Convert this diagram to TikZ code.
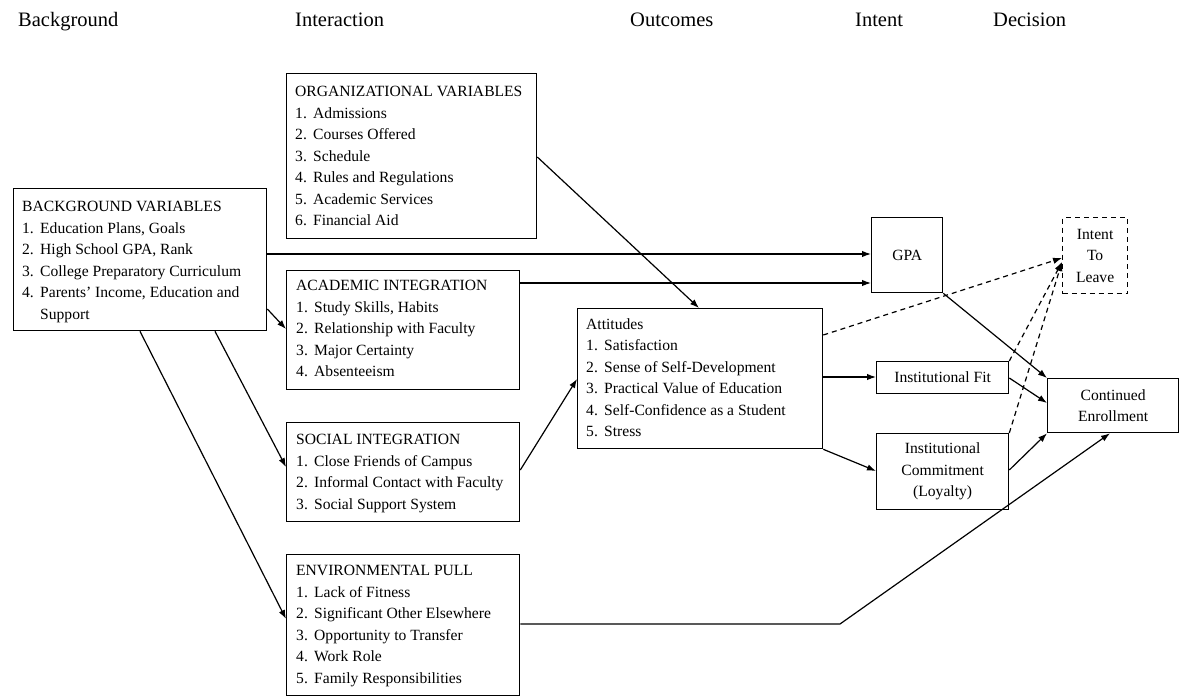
\documentclass[tikz,border=0pt]{standalone}
\usepackage{fontspec}
\setmainfont{Liberation Serif}
\usetikzlibrary{arrows.meta,calc}
\newcommand{\itm}[1]{\makebox[18pt][l]{#1}}
\begin{document}
\begin{tikzpicture}[x=1pt,y=-1pt,
  box/.style={draw,line width=1.3pt,anchor=north west,inner sep=0pt},
  txt/.style={anchor=north west,inner sep=0pt,align=left,font=\fontsize{15.6}{21.5}\selectfont},
  ctxt/.style={inner sep=0pt,align=center,font=\fontsize{15.6}{21.5}\selectfont},
  hdr/.style={anchor=base west,inner sep=0pt,font=\fontsize{20.5}{24}\selectfont},
  arr/.style={line width=1.2pt,-{Latex[length=9pt,width=6.5pt]}},
  dsh/.style={arr,dash pattern=on 5pt off 4pt}]
\useasboundingbox (0,0) rectangle (1179,696);
\fill[white] (0,0) rectangle (1179,696);

% headers
\node[hdr] (h1) at (18,27) {Background};
\node[hdr] (h2) at (295,27) {Interaction};
\node[hdr] (h3) at (630,27) {Outcomes};
\node[hdr] (h4) at (855,27) {Intent};
\node[hdr] (h5) at (993,27) {Decision};

% boxes
\node[box,minimum width=253pt,minimum height=142pt] (bg) at (13,188) {};
\node[box,minimum width=250pt,minimum height=165pt] (org) at (286,73) {};
\node[box,minimum width=233pt,minimum height=119pt] (acad) at (286,270) {};
\node[box,minimum width=233pt,minimum height=99pt] (soc) at (286,422) {};
\node[box,minimum width=233pt,minimum height=141pt] (env) at (286,554) {};
\node[box,minimum width=245pt,minimum height=140pt] (att) at (577,308) {};
\node[box,minimum width=71pt,minimum height=75pt] (gpa) at (871,217) {};
\node[box,dash pattern=on 5pt off 4pt,minimum width=65pt,minimum height=76pt] (itl) at (1062,217) {};
\node[box,minimum width=132pt,minimum height=32pt] (fit) at (876,361) {};
\node[box,minimum width=131pt,minimum height=54pt] (ce) at (1047,378) {};
\node[box,minimum width=132pt,minimum height=76pt] (com) at (876,433) {};

% box texts
\node[txt] (bgt) at (22,201) {BACKGROUND VARIABLES\\
\itm{1.}Education Plans, Goals\\
\itm{2.}High School GPA, Rank\\
\itm{3.}College Preparatory Curriculum\\
\itm{4.}Parents’ Income, Education and\\
\itm{}Support};
\node[txt] (orgt) at (295,86) {ORGANIZATIONAL VARIABLES\\
\itm{1.}Admissions\\
\itm{2.}Courses Offered\\
\itm{3.}Schedule\\
\itm{4.}Rules and Regulations\\
\itm{5.}Academic Services\\
\itm{6.}Financial Aid};
\node[txt] (acadt) at (296,280) {ACADEMIC INTEGRATION\\
\itm{1.}Study Skills, Habits\\
\itm{2.}Relationship with Faculty\\
\itm{3.}Major Certainty\\
\itm{4.}Absenteeism};
\node[txt] (soct) at (296,434) {SOCIAL INTEGRATION\\
\itm{1.}Close Friends of Campus\\
\itm{2.}Informal Contact with Faculty\\
\itm{3.}Social Support System};
\node[txt] (envt) at (296,565) {ENVIRONMENTAL PULL\\
\itm{1.}Lack of Fitness\\
\itm{2.}Significant Other Elsewhere\\
\itm{3.}Opportunity to Transfer\\
\itm{4.}Work Role\\
\itm{5.}Family Responsibilities};
\node[txt] (attt) at (586,318) {Attitudes\\
\itm{1.}Satisfaction\\
\itm{2.}Sense of Self-Development\\
\itm{3.}Practical Value of Education\\
\itm{4.}Self-Confidence as a Student\\
\itm{5.}Stress};
\node[ctxt] (gpat) at (gpa) {GPA};
\node[ctxt] (itlt) at (itl) {Intent\\To\\Leave};
\node[ctxt] (fitt) at (fit) {Institutional Fit};
\node[ctxt] (cet) at (ce) {Continued\\Enrollment};
\node[ctxt] (comt) at (com) {Institutional\\Commitment\\(Loyalty)};

% connectors
\coordinate (bend) at (840,624);
\draw[arr] (bg.east |- 0,254) -- (gpa.west |- 0,254);
\draw[arr] (acad.east |- 0,283) -- (gpa.west |- 0,283);
\draw[arr] (bg.east |- 0,309) -- (acad.west |- 0,329);
\draw[arr] (bg.south -| 215,0) -- (soc.west |- 0,467);
\draw[arr] (bg.south -| 140,0) -- (env.west |- 0,619);
\draw[arr] (org.east |- 0,157) -- (att.north -| 699,0);
\draw[arr] (soc.east |- 0,470) -- (att.west |- 0,379);
\draw[arr] (att.east |- 0,377) -- (fit.west |- 0,377);
\draw[arr] (att.south east) -- (com.west |- 0,471);
\draw[dsh] (att.east |- 0,335) -- (itl.west |- 0,258);
\draw[dsh] (fit.north east) -- (itl.west |- 0,262);
\draw[dsh] (com.north east) -- (itl.west |- 0,262);
\draw[arr] (gpa.south east) -- (ce.north west);
\draw[arr] (fit.east |- 0,378) -- (ce.west |- 0,403);
\draw[arr] (com.east |- 0,470) -- (ce.south west);
\draw[arr] (env.east |- bend) -- (bend) -- (ce.south -| 1110,0);
\end{tikzpicture}
\end{document}
